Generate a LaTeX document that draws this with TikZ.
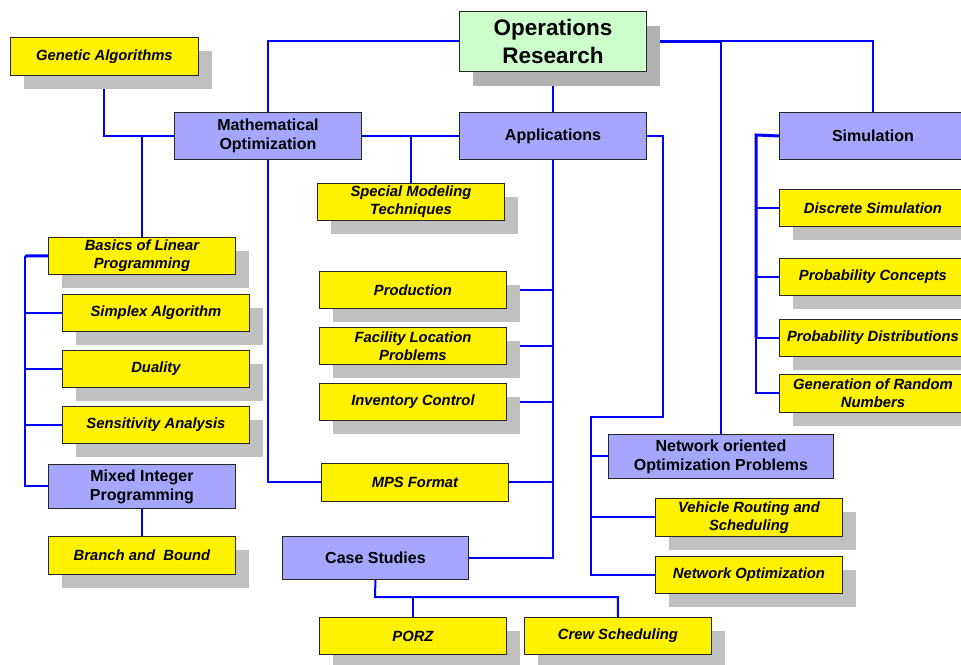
\documentclass[tikz,border=0pt]{standalone}
\usepackage{fontspec}
\setmainfont{Liberation Sans}
\usetikzlibrary{shadows}
\pgfdeclarelayer{background}
\pgfsetlayers{background,main}
\definecolor{lilac}{HTML}{A6A6FF}
\definecolor{mint}{HTML}{CCFFCC}
\definecolor{shgray}{HTML}{C0C0C0}
\definecolor{shgrayd}{HTML}{B2B2B2}
\definecolor{linkblue}{HTML}{0000FF}
\tikzset{
  base/.style={draw=black!85, line width=0.9pt, inner sep=0pt, align=center, anchor=north west},
  yplain/.style={base, fill=yellow, minimum width=187pt, minimum height=37pt,
    font=\bfseries\itshape\fontsize{14.8}{17.7}\selectfont},
  ybox/.style={yplain, drop shadow={shadow xshift=14pt, shadow yshift=-14pt, fill=shgray, opacity=1}},
  lbox/.style={base, fill=lilac, minimum width=187pt, minimum height=47pt,
    font=\bfseries\fontsize{16}{19}\selectfont},
  gbox/.style={base, fill=mint, minimum width=187pt, minimum height=60pt,
    font=\bfseries\fontsize{22.5}{27.5}\selectfont,
    drop shadow={shadow xshift=14pt, shadow yshift=-15pt, fill=shgrayd, opacity=1}},
  conn/.style={draw=linkblue, line width=2pt},
  thick conn/.style={draw=linkblue, line width=3pt},
}
\begin{document}
\begin{tikzpicture}[x=1pt, y=-1pt]
\useasboundingbox (0,0) rectangle (961,664);
\clip (0,0) rectangle (961,664);
% nodes
\node[gbox] (or) at (459,11) {Operations\\Research};
\node[ybox, minimum width=188pt, minimum height=38pt] (ga) at (10,37) {Genetic Algorithms};
\node[lbox] (mo) at (174,112) {Mathematical\\Optimization};
\node[lbox] (app) at (459,112) {Applications};
\node[lbox] (sim) at (779,112) {Simulation};
\node[ybox] (smt) at (317,183) {Special Modeling\\Techniques};
\node[ybox] (ds) at (779,189) {Discrete Simulation};
\node[ybox] (blp) at (48,237) {Basics of Linear\\Programming};
\node[ybox] (pc) at (779,258) {Probability Concepts};
\node[ybox] (prod) at (319,271) {Production};
\node[ybox] (simplex) at (62,294) {Simplex Algorithm};
\node[ybox] (pd) at (779,319) {Probability Distributions};
\node[ybox] (fac) at (319,327) {Facility Location\\Problems};
\node[ybox] (dual) at (62,350) {Duality};
\node[ybox, minimum height=38pt] (gen) at (779,374) {Generation of Random\\Numbers};
\node[ybox] (inv) at (319,383) {Inventory Control};
\node[ybox] (sa) at (62,406) {Sensitivity Analysis};
\node[lbox, minimum width=225pt, minimum height=44pt] (net) at (608,434) {Network oriented\\Optimization Problems};
\node[yplain, minimum height=38pt] (mps) at (321,463) {MPS Format};
\node[lbox, minimum height=44pt] (mip) at (48,464) {Mixed Integer\\Programming};
\node[ybox, minimum height=38pt] (vr) at (655,498) {Vehicle Routing and\\Scheduling};
\node[lbox, minimum width=186pt, minimum height=43pt] (cs) at (282,536) {Case Studies};
\node[ybox, minimum height=38pt] (bb) at (48,536) {Branch and\ \ Bound};
\node[ybox] (nopt) at (655,556) {Network Optimization};
\node[ybox] (porz) at (319,617) {PORZ};
\node[ybox] (crew) at (524,617) {Crew Scheduling};
% helper coordinates
\coordinate (lcol) at (25,256);
\coordinate (a1) at (663,417);
\coordinate (a2) at (591,417);
\coordinate (c1) at (375,597);
\coordinate (s1) at (756,135);
\begin{pgfonlayer}{background}
% Operations Research
\draw[conn] (or.west) -| (mo.north);
\draw[conn] (or.south) -- (app.north);
\draw[conn] (or.east) -| (sim.north);
\draw[thick conn] (or.east) -- (or.east -| net.north);
\draw[conn] (or.east -| net.north) -- (net.north);
% Mathematical Optimization
\draw[conn] (ga.south) |- (mo.west);
\draw[conn] (mo.west) -| (blp.north);
\draw[conn] (mo.east) -- (app.west);
\draw[conn] (app.west) -| (smt.north);
\draw[conn] (mo.south) |- (mps.west);
% left column
\draw[thick conn] (blp.west) -- (lcol);
\draw[conn] (lcol) |- (mip.west);
\draw[conn] (simplex.west) -- (simplex.west -| lcol);
\draw[conn] (dual.west) -- (dual.west -| lcol);
\draw[conn] (sa.west) -- (sa.west -| lcol);
\draw[conn] (mip.south) -- (bb.north);
% Applications
\draw[conn] (app.south) |- (cs.east);
\draw[conn] (prod.east) -- (prod.east -| app.south);
\draw[conn] (fac.east) -- (fac.east -| app.south);
\draw[conn] (inv.east) -- (inv.east -| app.south);
\draw[conn] (mps.east) -- (mps.east -| app.south);
\draw[conn] (app.east) -| (a1) -- (a2) |- (nopt.west);
\draw[conn] (net.west) -- (net.west -| a2);
\draw[conn] (vr.west) -- (vr.west -| a2);
% Case Studies
\draw[conn] (cs.south) -- (c1) -| (crew.north);
\draw[conn] (porz.north) -- (porz.north |- c1);
% Simulation
\draw[thick conn, line join=miter] (sim.west) -- (s1) -- (s1 |- pd.west);
\draw[conn] (s1 |- pd.west) |- (gen.west);
\draw[conn] (ds.west) -- (ds.west -| s1);
\draw[conn] (pc.west) -- (pc.west -| s1);
\draw[conn] (pd.west) -- (pd.west -| s1);
\end{pgfonlayer}
\end{tikzpicture}
\end{document}
